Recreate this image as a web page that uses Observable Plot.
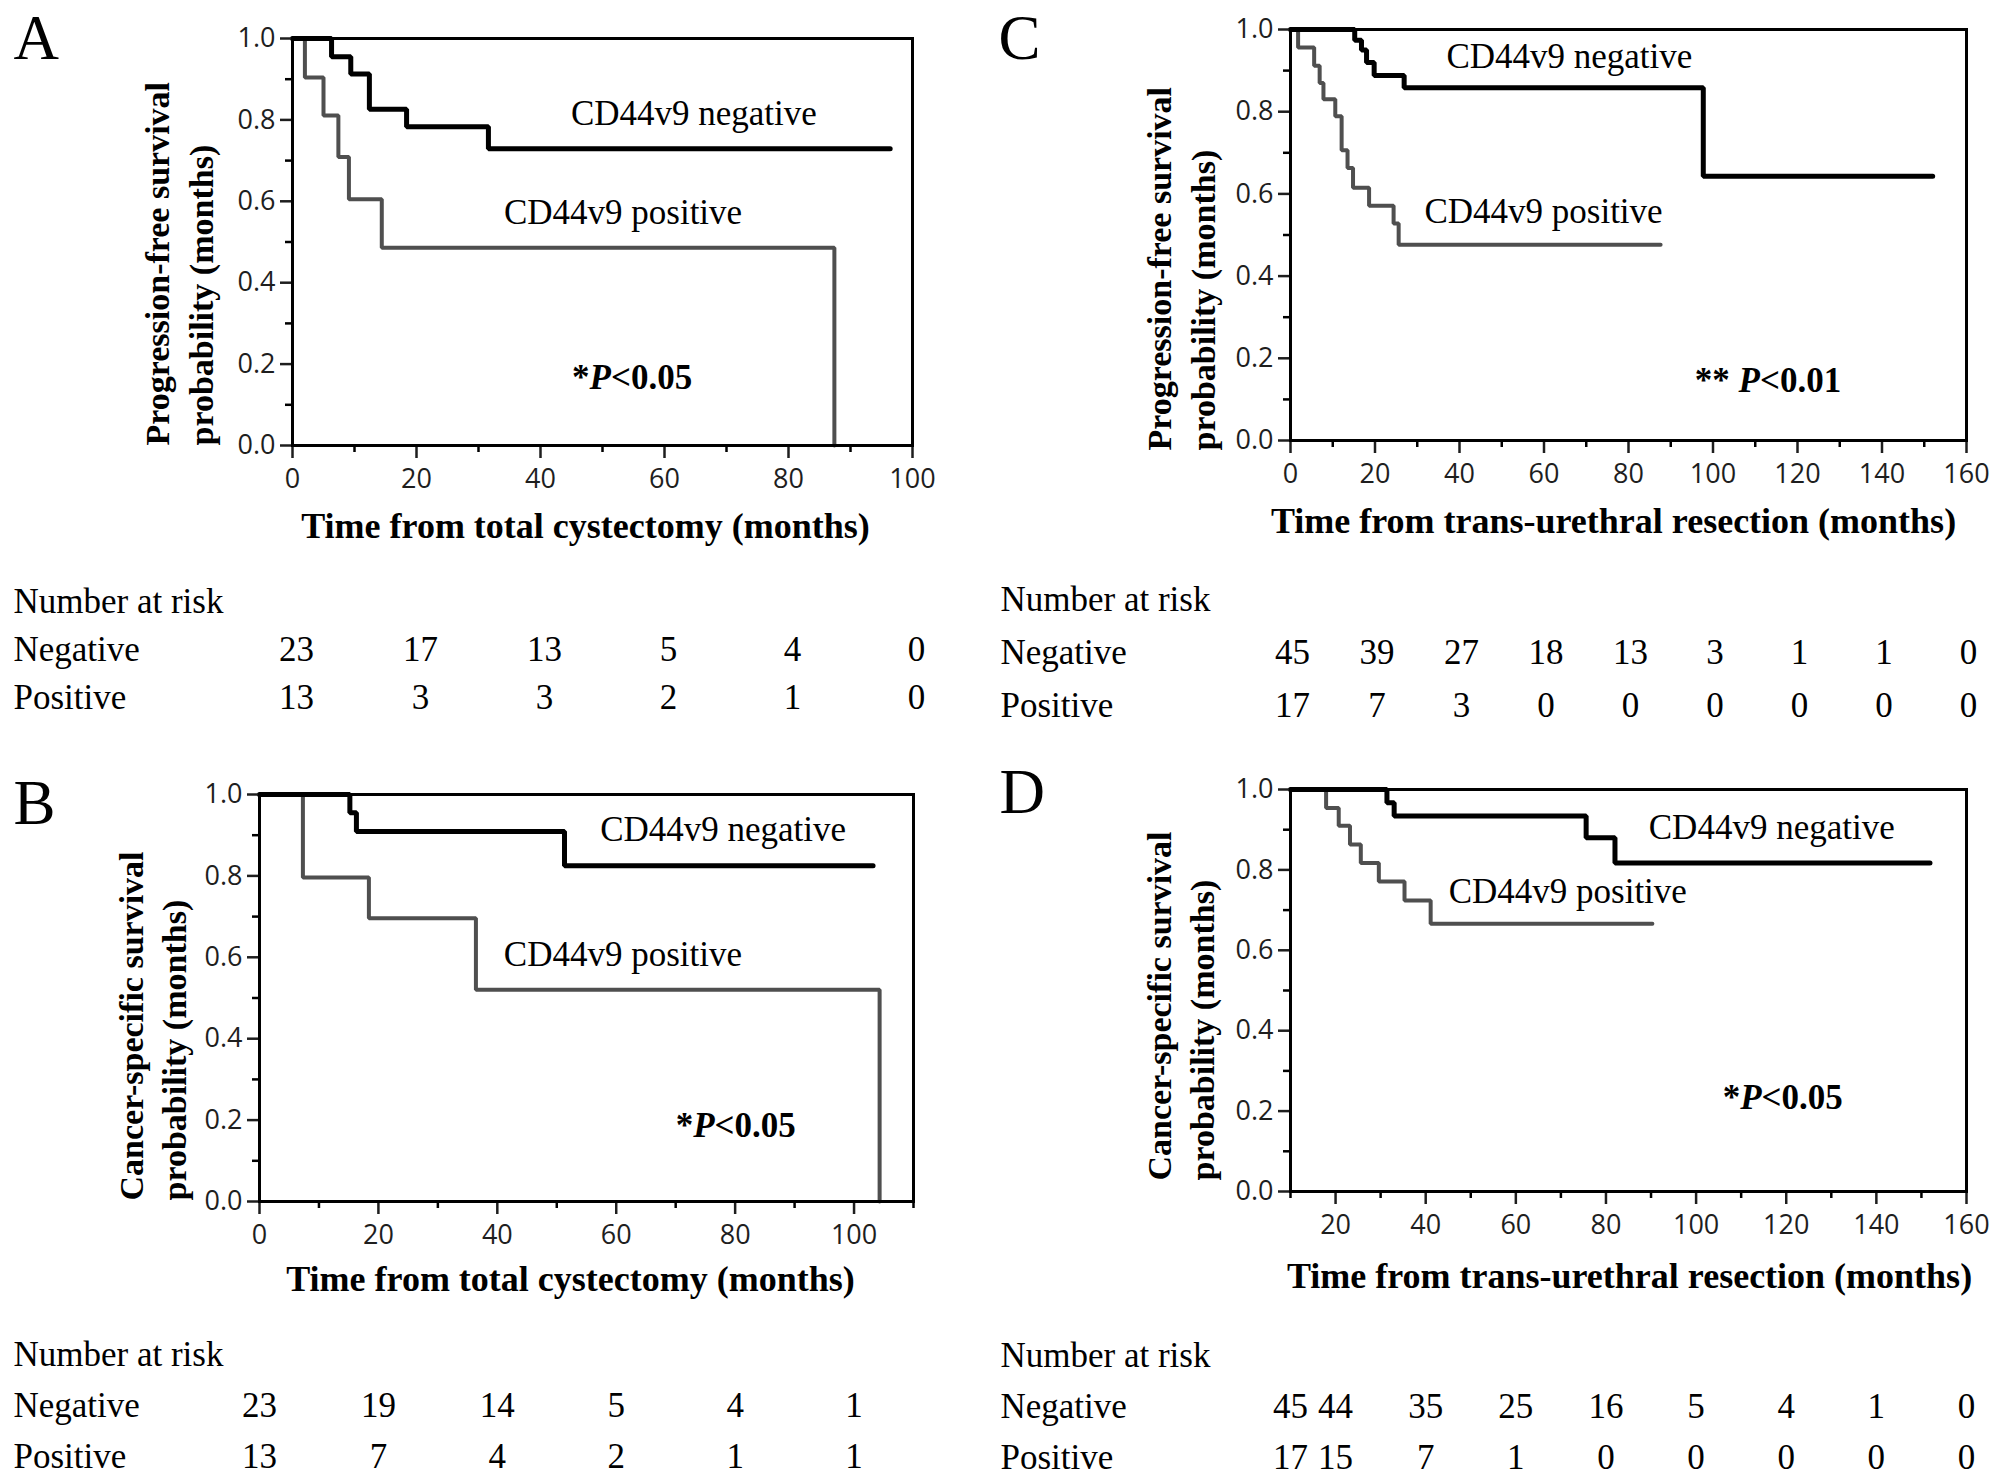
<!DOCTYPE html>
<html>
<head>
<meta charset="utf-8">
<script src="https://cdn.jsdelivr.net/npm/d3@7"></script>
<script src="https://cdn.jsdelivr.net/npm/@observablehq/plot@0.6"></script>
<style>
  html, body { margin: 0; padding: 0; background: #fff; }
  #page { position: relative; width: 2008px; height: 1483px; background: #fff; overflow: hidden; }
</style>
</head>
<body>
<div id="page"></div>
<script>
// ---------------- DATA ----------------
// Panel A: progression-free survival, from total cystectomy
const aNegTime = [0, 6.3, 9.4, 12.4, 18.4, 31.6, 96.4];
const aNegSurv = [1, 0.955, 0.913, 0.826, 0.783, 0.729, 0.729];
const aPosTime = [0, 2.0, 5.0, 7.4, 9.1, 14.4, 87.4];
const aPosSurv = [1, 0.904, 0.811, 0.709, 0.605, 0.486, 0];
const aRiskTimes = [0, 20, 40, 60, 80, 100];
const aRiskNeg = [23, 17, 13, 5, 4, 0];
const aRiskPos = [13, 3, 3, 2, 1, 0];

// Panel B: cancer-specific survival, from total cystectomy
const bNegTime = [0, 15.2, 16.3, 51.3, 103.2];
const bNegSurv = [1, 0.955, 0.909, 0.825, 0.825];
const bPosTime = [0, 7.3, 18.4, 36.4, 104.3];
const bPosSurv = [1, 0.796, 0.696, 0.52, 0];
const bRiskTimes = [0, 20, 40, 60, 80, 100];
const bRiskNeg = [23, 19, 14, 5, 4, 1];
const bRiskPos = [13, 7, 4, 2, 1, 1];

// Panel C: progression-free survival, from trans-urethral resection
const cNegTime = [0, 15.2, 16.8, 18.0, 19.8, 26.9, 97.7, 152];
const cNegSurv = [1, 0.974, 0.95, 0.92, 0.888, 0.858, 0.643, 0.643];
const cPosTime = [0, 1.8, 5.6, 6.9, 7.8, 10.6, 12.1, 13.5, 14.8, 18.6, 24.4, 25.6, 87.6];
const cPosSurv = [1, 0.956, 0.912, 0.87, 0.83, 0.789, 0.706, 0.663, 0.615, 0.571, 0.528, 0.476, 0.476];
const cRiskTimes = [0, 20, 40, 60, 80, 100, 120, 140, 160];
const cRiskNeg = [45, 39, 27, 18, 13, 3, 1, 1, 0];
const cRiskPos = [17, 7, 3, 0, 0, 0, 0, 0, 0];

// Panel D: cancer-specific survival, from trans-urethral resection
const dNegTime = [10, 31.4, 33.0, 75.6, 82.0, 151.9];
const dNegSurv = [1, 0.967, 0.934, 0.88, 0.817, 0.817];
const dPosTime = [10, 17.9, 20.7, 23.2, 25.6, 29.6, 35.3, 41.1, 90.3];
const dPosSurv = [1, 0.954, 0.91, 0.863, 0.817, 0.771, 0.724, 0.666, 0.666];
const dRiskTimes = [10, 20, 40, 60, 80, 100, 120, 140, 160];
const dRiskNeg = [45, 44, 35, 25, 16, 5, 4, 1, 0];
const dRiskPos = [17, 15, 7, 1, 0, 0, 0, 0, 0];

// Tick values
const yMajorTicks = [0, 0.2, 0.4, 0.6, 0.8, 1.0];
const yMinorTicks = [0.1, 0.3, 0.5, 0.7, 0.9];
const aXMajor = [0, 20, 40, 60, 80, 100];
const aXMinor = [10, 30, 50, 70, 90];
const bXMajor = [0, 20, 40, 60, 80, 100];
const bXMinor = [10, 30, 50, 70, 90, 110];
const cXMajor = [0, 20, 40, 60, 80, 100, 120, 140, 160];
const cXMinor = [10, 30, 50, 70, 90, 110, 130, 150];
const dXMajor = [20, 40, 60, 80, 100, 120, 140, 160];
const dXMinor = [10, 30, 50, 70, 90, 110, 130, 150];

// Texts
const negLabel = "CD44v9 negative";
const posLabel = "CD44v9 positive";
const riskRows = ["Number at risk", "Negative", "Positive"];
const pfsTitle = "Progression-free survival\nprobability (months)";
const cssTitle = "Cancer-specific survival\nprobability (months)";
const rcTitle = "Time from total cystectomy (months)";
const turTitle = "Time from trans-urethral resection (months)";

// ---------------- LAYOUT ----------------
const panels = [
  { id: "A", negT: aNegTime, negS: aNegSurv, posT: aPosTime, posS: aPosSurv,
    riskT: aRiskTimes, riskN: aRiskNeg, riskP: aRiskPos,
    xDomain: [0, 100], xMajor: aXMajor, xMinor: aXMinor, yTitle: pfsTitle, xTitle: rcTitle, pText: "*P<0.05",
    svg: { left: 0, top: 0, width: 990, height: 560 }, frame: { l: 292, r: 912, t: 38, b: 445 },
    table: { top: 560, height: 180, rows: [600.6, 649.3, 698] }, rowLabelX: 13, tableDx: 4,
    letter: [13, 58], xTitleAt: [585, 526], yTitleAt: [176.5, 445],
    negAt: [44.9, 0.816], posAt: [34.1, 0.572], pAt: [45.1, 0.166] },
  { id: "B", negT: bNegTime, negS: bNegSurv, posT: bPosTime, posS: bPosSurv,
    riskT: bRiskTimes, riskN: bRiskNeg, riskP: bRiskPos,
    xDomain: [0, 110], xMajor: bXMajor, xMinor: bXMinor, yTitle: cssTitle, xTitle: rcTitle, pText: "*P<0.05",
    svg: { left: 0, top: 740, width: 990, height: 560 }, frame: { l: 259, r: 913, t: 794, b: 1201 },
    table: { top: 1300, height: 183, rows: [1353.6, 1406, 1457] }, rowLabelX: 13, tableDx: 0,
    letter: [13, 823], xTitleAt: [570, 1279], yTitleAt: [150, 1200],
    negAt: [57.3, 0.914], posAt: [41.1, 0.606], pAt: [70.0, 0.187] },
  { id: "C", negT: cNegTime, negS: cNegSurv, posT: cPosTime, posS: cPosSurv,
    riskT: cRiskTimes, riskN: cRiskNeg, riskP: cRiskPos,
    xDomain: [0, 160], xMajor: cXMajor, xMinor: cXMinor, yTitle: pfsTitle, xTitle: turTitle, pText: "** P<0.01",
    svg: { left: 990, top: 0, width: 1018, height: 560 }, frame: { l: 1290, r: 1966, t: 29, b: 440 },
    table: { top: 560, height: 180, rows: [599, 652, 705] }, rowLabelX: 1000, tableDx: 2,
    letter: [998, 58], xTitleAt: [1613, 520.5], yTitleAt: [1178.5, 450],
    negAt: [36.9, 0.933], posAt: [31.7, 0.556], pAt: [95.7, 0.146] },
  { id: "D", negT: dNegTime, negS: dNegSurv, posT: dPosTime, posS: dPosSurv,
    riskT: dRiskTimes, riskN: dRiskNeg, riskP: dRiskPos,
    xDomain: [10, 160], xMajor: dXMajor, xMinor: dXMinor, yTitle: cssTitle, xTitle: turTitle, pText: "*P<0.05",
    svg: { left: 990, top: 740, width: 1018, height: 560 }, frame: { l: 1290, r: 1966, t: 789, b: 1191 },
    table: { top: 1300, height: 183, rows: [1355, 1407, 1457] }, rowLabelX: 1000, tableDx: 0,
    letter: [999, 812], xTitleAt: [1629, 1275.5], yTitleAt: [1178, 1180],
    negAt: [89.5, 0.904], posAt: [45.1, 0.745], pAt: [105.9, 0.232] }
];

const page = document.getElementById("page");
const SERIF = "'Liberation Serif', 'Times New Roman', serif";
const SANS = "'Open Sans', 'DejaVu Sans', sans-serif";

function place(svg, box) {
  svg.style.position = "absolute";
  svg.style.left = box.left + "px";
  svg.style.top = box.top + "px";
  page.appendChild(svg);
}

function italicP(svg) {
  d3.select(svg).selectAll("text").each(function () {
    const s = this.textContent;
    const i = s.indexOf("P<");
    if (i < 0 || this.querySelector("tspan")) return;
    this.textContent = "";
    const parts = [[s.slice(0, i), null], ["P", "italic"], [s.slice(i + 1), null]];
    for (const [txt, st] of parts) {
      const t = document.createElementNS("http://www.w3.org/2000/svg", "tspan");
      t.textContent = txt;
      if (st) t.setAttribute("font-style", st);
      this.appendChild(t);
    }
  });
}

for (const p of panels) {
  const sv = p.svg, f = p.frame;
  const ml = f.l - sv.left, mr = sv.left + sv.width - f.r;
  const mt = f.t - sv.top, mb = sv.top + sv.height - f.b;
  const neg = p.negT.map((t, i) => ({ t, s: p.negS[i] }));
  const pos = p.posT.map((t, i) => ({ t, s: p.posS[i] }));
  const anchorBL = [f.l, f.b];                 // frameAnchor bottom-left
  const anchorTL = [f.l, f.t];                 // frameAnchor top-left
  const anchorB = [(f.l + f.r) / 2, f.b];      // frameAnchor bottom
  const letterFs = 63, labelFs = 35, titleFs = 36;

  const km = Plot.plot({
    width: sv.width, height: sv.height,
    marginLeft: ml, marginRight: mr, marginTop: mt, marginBottom: mb,
    x: { domain: p.xDomain, axis: null },
    y: { domain: [0, 1], axis: null },
    style: { fontFamily: SERIF, background: "transparent", overflow: "visible", color: "#000" },
    marks: [
      Plot.line(pos, { x: "t", y: "s", curve: "step-after", stroke: "#4f4f4f", strokeWidth: 4, strokeLinejoin: "miter" }),
      Plot.line(neg, { x: "t", y: "s", curve: "step-after", stroke: "#000", strokeWidth: 5, strokeLinejoin: "miter" }),
      Plot.axisX({ ticks: p.xMinor, tickSize: 7, tickFormat: () => "", strokeWidth: 2.5, label: null }),
      Plot.axisX({ ticks: p.xMajor, tickSize: 13, tickPadding: 10, tickFormat: d => String(d),
                   fontSize: 27, fontFamily: SANS, color: "#1e1e1e", strokeWidth: 2.5, label: null }),
      Plot.axisY({ ticks: yMinorTicks, tickSize: 7, tickFormat: () => "", strokeWidth: 2.5, label: null }),
      Plot.axisY({ ticks: yMajorTicks, tickSize: 12, tickPadding: 5, tickFormat: d3.format(".1f"),
                   fontSize: 27, fontFamily: SANS, color: "#1e1e1e", strokeWidth: 2.5, label: null }),
      Plot.frame({ stroke: "#000", strokeWidth: 3 }),
      Plot.text([{ x: p.negAt[0], y: p.negAt[1], text: negLabel }], { x: "x", y: "y", text: "text", textAnchor: "start", fontSize: labelFs }),
      Plot.text([{ x: p.posAt[0], y: p.posAt[1], text: posLabel }], { x: "x", y: "y", text: "text", textAnchor: "start", fontSize: labelFs }),
      Plot.text([{ x: p.pAt[0], y: p.pAt[1], text: p.pText }], { x: "x", y: "y", text: "text", textAnchor: "start", fontSize: labelFs, fontWeight: "bold" }),
      Plot.text([p.id], { text: d => d, frameAnchor: "top-left", textAnchor: "start", lineAnchor: "middle", fontSize: letterFs,
                          dx: p.letter[0] - anchorTL[0], dy: (p.letter[1] - 0.32 * letterFs) - anchorTL[1] }),
      Plot.text([p.xTitle], { text: d => d, frameAnchor: "bottom", textAnchor: "middle", lineAnchor: "middle", fontSize: titleFs, fontWeight: "bold",
                              dx: p.xTitleAt[0] - anchorB[0], dy: p.xTitleAt[1] - anchorB[1] }),
      Plot.text([p.yTitle], { text: d => d, frameAnchor: "bottom-left", rotate: -90, textAnchor: "start", lineAnchor: "middle",
                              lineHeight: 1.28, fontSize: 34, fontWeight: "bold",
                              dx: p.yTitleAt[0] - anchorBL[0], dy: p.yTitleAt[1] - anchorBL[1] })
    ]
  });
  italicP(km);
  place(km, sv);

  // Number-at-risk table, sharing the x scale
  const tb = p.table;
  const rowsTop = tb.rows[0] - tb.top, rowsBottom = tb.top + tb.height - tb.rows[2];
  const tableData = [];
  p.riskT.forEach((t, i) => {
    tableData.push({ t, row: "Negative", n: p.riskN[i] });
    tableData.push({ t, row: "Positive", n: p.riskP[i] });
  });
  const table = Plot.plot({
    width: sv.width, height: tb.height,
    marginLeft: ml, marginRight: mr, marginTop: rowsTop, marginBottom: rowsBottom,
    x: { domain: p.xDomain, axis: null },
    y: { type: "point", domain: riskRows, padding: 0, axis: null },
    style: { fontFamily: SERIF, background: "transparent", overflow: "visible", color: "#000" },
    marks: [
      Plot.text(riskRows, { y: d => d, text: d => d, frameAnchor: "left", textAnchor: "start", lineAnchor: "middle", fontSize: 35,
                            dx: p.rowLabelX - f.l }),
      Plot.text(tableData, { x: "t", y: "row", text: d => String(d.n), textAnchor: "middle", lineAnchor: "middle", fontSize: 35, dx: p.tableDx })
    ]
  });
  place(table, { left: sv.left, top: tb.top });
}
</script>
</body>
</html>
